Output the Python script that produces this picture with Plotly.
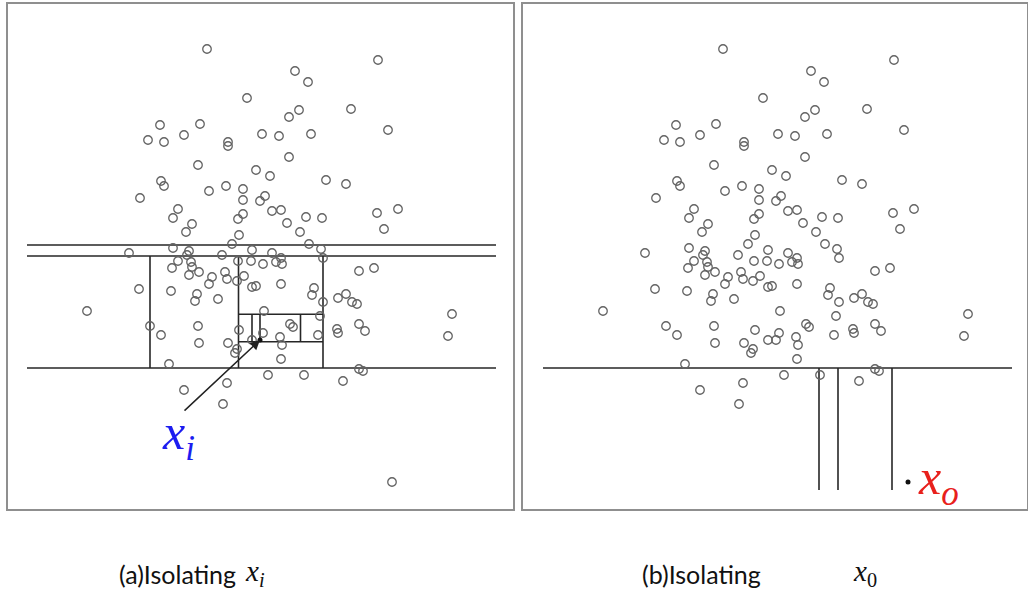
import plotly.graph_objects as go

# ---- data (shared sample) ----
pts_x = [200, 240, 153, 193, 141, 157, 177, 221, 221, 255, 191, 249, 263, 154, 157, 202, 219, 236,
         371, 288, 301, 292, 282, 344, 272, 304, 381, 282, 319, 339,
         133, 236, 253, 258, 171, 166, 236, 231, 185, 179, 232, 225, 122, 166, 182, 180, 215, 245,
         171, 165, 184, 185, 192, 182, 231, 244, 256, 218, 205, 202, 220, 230, 237, 245, 249, 132,
         164, 190, 188, 211, 80, 257, 143, 154, 191, 232, 256, 245, 192, 221,
         265, 274, 280, 299, 315, 293, 370, 391, 377, 302, 314, 316, 265, 274, 269, 275, 352, 367,
         274, 307, 305, 316, 331, 339, 345, 350, 313, 283, 286, 330, 331, 352, 358, 273, 311, 445,
         441, 275,
         230, 228, 162, 261, 177, 220, 216,
         274, 297, 336, 352, 356]
pts_y = [460, 411, 384, 385, 369, 367, 374, 367, 363, 375, 344, 339, 333, 328, 323, 318, 323, 320,
         449, 438, 427, 399, 392, 400, 373, 375, 379, 352, 329, 325,
         311, 309, 308, 313, 300, 291, 295, 290, 285, 277, 274, 265, 256, 261, 258, 254, 254, 259,
         248, 241, 247, 242, 237, 234, 248, 248, 245, 237, 232, 225, 230, 228, 233, 222, 223, 220,
         218, 215, 208, 210, 198, 198, 183, 174, 183, 179, 176, 169, 166, 166,
         298, 299, 286, 292, 291, 277, 296, 300, 280, 265, 260, 251, 256, 251, 247, 245, 238, 241,
         225, 221, 214, 207, 211, 215, 207, 205, 193, 185, 182, 180, 176, 185, 178, 172, 174, 195,
         173, 164,
         160, 156, 145, 134, 119, 126, 105,
         150, 134, 128, 140, 138]
xi_point = (253, 169)   # inlier being isolated
xo_point = (385, 27)    # outlier being isolated

# isolation-tree split lines (panel a): [x0, x1, y0, y1]
splits_a = [(20, 489, 264, 264), (20, 489, 253, 253), (20, 489, 141, 141),
            (143, 143, 253, 141), (231.5, 231.5, 253, 141), (316, 316, 253, 141),
            (231.5, 316, 194.7, 194.7), (231.5, 316, 167.3, 167.3),
            (245, 245, 194.7, 167.3), (253, 253, 194.7, 169), (293.5, 293.5, 194.7, 167.3)]
# split lines (panel b)
splits_b = [(20, 489, 141, 141), (296, 296, 141, 19), (315, 315, 141, 19), (369, 369, 141, 19)]

captions = ["(a)Isolating", "(b)Isolating"]
W, H = 1028, 590

fig = go.Figure()


def seg_xy(segs):
    xs, ys = [], []
    for x0, x1, y0, y1 in segs:
        xs += [x0, x1, None]
        ys += [y0, y1, None]
    return xs, ys


circle = dict(symbol="circle-open", size=8.5, color="#636363", line=dict(width=1.3, color="#636363"))
dot = dict(symbol="circle", size=5, color="#111")
line_style = dict(color="#262626", width=1.6)

# panel a
xs, ys = seg_xy(splits_a)
fig.add_trace(go.Scatter(x=xs, y=ys, mode="lines", line=line_style, xaxis="x", yaxis="y", hoverinfo="skip"))
fig.add_trace(go.Scatter(x=pts_x + [xo_point[0]], y=pts_y + [xo_point[1]], mode="markers",
                         marker=circle, xaxis="x", yaxis="y"))
fig.add_trace(go.Scatter(x=[xi_point[0]], y=[xi_point[1]], mode="markers", marker=dot, xaxis="x", yaxis="y"))

# panel b
xs, ys = seg_xy(splits_b)
fig.add_trace(go.Scatter(x=xs, y=ys, mode="lines", line=line_style, xaxis="x2", yaxis="y2", hoverinfo="skip"))
fig.add_trace(go.Scatter(x=pts_x + [xi_point[0]], y=pts_y + [xi_point[1]], mode="markers",
                         marker=circle, xaxis="x2", yaxis="y2"))
fig.add_trace(go.Scatter(x=[xo_point[0]], y=[xo_point[1]], mode="markers", marker=dot, xaxis="x2", yaxis="y2"))

ax_common = dict(showgrid=False, zeroline=False, showticklabels=False, ticks="",
                 showline=True, mirror=True, linecolor="#8f8f8f", linewidth=1.6, fixedrange=True)

fig.update_layout(
    width=W, height=H, margin=dict(l=0, r=0, t=0, b=0),
    paper_bgcolor="white", plot_bgcolor="white", showlegend=False,
    xaxis=dict(domain=[8 / W, 513 / W], range=[1, 506], **ax_common),
    yaxis=dict(domain=[81 / H, 586 / H], range=[0, 505], **ax_common),
    xaxis2=dict(domain=[523 / W, 1027 / W], range=[0, 504], anchor="y2", **ax_common),
    yaxis2=dict(domain=[81 / H, 586 / H], range=[0, 505], anchor="x2", **ax_common),
)

annotations = [
    # arrow to x_i
    dict(x=xi_point[0], y=xi_point[1], ax=176, ay=97, xref="x", yref="y", axref="x", ayref="y",
         text="", showarrow=True, arrowhead=2, arrowsize=1.3, arrowwidth=1.5, arrowcolor="#222"),
    dict(x=160 / W, y=1 - 436 / H, xref="paper", yref="paper", xanchor="left", yanchor="middle",
         text="<i>x</i><sub><i>i</i></sub>", showarrow=False,
         font=dict(family="Liberation Serif", size=50, color="#1c1cf0")),
    dict(x=916 / W, y=1 - 481 / H, xref="paper", yref="paper", xanchor="left", yanchor="middle",
         text="<i>x</i><sub><i>o</i></sub>", showarrow=False,
         font=dict(family="Liberation Serif", size=50, color="#e8201c")),
    # captions
    dict(x=117 / W, y=1 - 574 / H, xref="paper", yref="paper", xanchor="left", yanchor="middle",
         text=captions[0], showarrow=False, font=dict(family="Lato", size=25, color="#111")),
    dict(x=243 / W, y=1 - 573 / H, xref="paper", yref="paper", xanchor="left", yanchor="middle",
         text="<i>x</i><sub><i>i</i></sub>", showarrow=False,
         font=dict(family="Liberation Serif", size=29, color="#111")),
    dict(x=640 / W, y=1 - 574 / H, xref="paper", yref="paper", xanchor="left", yanchor="middle",
         text=captions[1], showarrow=False, font=dict(family="Lato", size=25, color="#111")),
    dict(x=851 / W, y=1 - 573 / H, xref="paper", yref="paper", xanchor="left", yanchor="middle",
         text="<i>x</i><sub>0</sub>", showarrow=False,
         font=dict(family="Liberation Serif", size=29, color="#111")),
]
fig.update_layout(annotations=annotations)

fig.write_html("out.html")
